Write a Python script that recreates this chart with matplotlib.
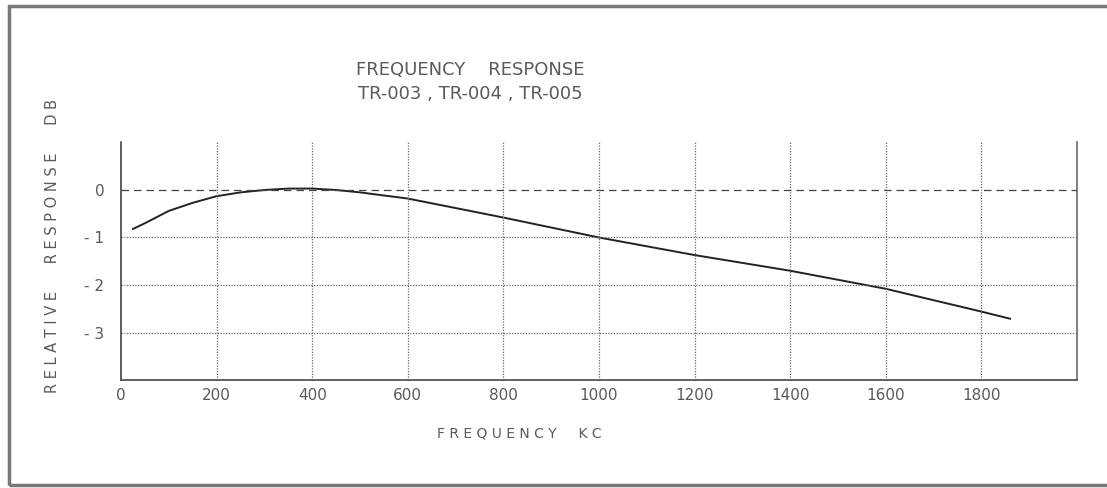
import matplotlib.pyplot as plt
import matplotlib as mpl
from matplotlib.patches import Rectangle

mpl.rcParams['font.family'] = 'DejaVu Sans'

# values
freq_kc = [25, 50, 100, 150, 200, 250, 300, 350, 400, 450, 500, 600, 700, 800,
           900, 1000, 1200, 1400, 1600, 1800, 1860]
response_db = [-0.82, -0.70, -0.44, -0.27, -0.13, -0.05, 0.0, 0.03, 0.03, 0.0,
               -0.05, -0.18, -0.38, -0.58, -0.79, -1.0, -1.37, -1.70, -2.08,
               -2.56, -2.71]

x_ticks = [0, 200, 400, 600, 800, 1000, 1200, 1400, 1600, 1800]
y_ticks = [0, -1, -2, -3]
y_ticklabels = ['0', '- 1', '- 2', '- 3']

txt = '#5a5a5a'
grid = '#6a6a6a'

fig = plt.figure(figsize=(11.07, 4.88), dpi=100)
ax = fig.add_axes([0.1093, 0.2213, 0.8636, 0.4867])

ax.plot(freq_kc, response_db, color='#222222', lw=1.4)

ax.set_xlim(0, 2000)
ax.set_ylim(-4, 1)

#grid lines drawn by hand so the zero line can be dashed
for xv in x_ticks[1:]:
    ax.axvline(xv, color=grid, lw=0.9, ls=(0, (1, 1.2)))
ax.axvline(2000, color='#777777', lw=1.3, clip_on=False)
for yv in y_ticks[1:]:
    ax.axhline(yv, color=grid, lw=0.9, ls=(0, (1, 1.2)))
ax.axhline(0, color='#444444', lw=0.9, ls=(0, (6, 4)))

ax.spines['top'].set_visible(False)
ax.spines['right'].set_visible(False)
ax.spines['left'].set_color('#333333')
ax.spines['bottom'].set_color('#555555')
ax.spines['left'].set_linewidth(1.1)
ax.spines['bottom'].set_linewidth(1.3)

ax.set_xticks(x_ticks)
ax.set_xticklabels([str(v) for v in x_ticks])
ax.set_yticks(y_ticks)
ax.set_yticklabels(y_ticklabels)
ax.tick_params(length=0, labelsize=11, labelcolor=txt)
ax.tick_params(axis='x', pad=6)
ax.tick_params(axis='y', pad=12)

fig.text(0.469, 0.111, 'F R E Q U E N C Y     K C', ha='center', va='center',
         fontsize=10, color=txt)
fig.text(0.047, 0.496, 'R E L A T I V E      R E S P O N S E      D B',
         rotation=90, ha='center', va='center', fontsize=10.5, color=txt)

fig.text(0.425, 0.857, 'FREQUENCY    RESPONSE', ha='center', va='center',
         fontsize=13, color=txt)
fig.text(0.425, 0.808, 'TR-003 , TR-004 , TR-005', ha='center', va='center',
         fontsize=13, color=txt)

#scan frame around the sheet
fig.patches.append(Rectangle((0.008, 0.006), 1.0, 0.982, transform=fig.transFigure,
                             fill=False, edgecolor='#777777', lw=2.5))

fig.savefig('out.png', dpi=100)
